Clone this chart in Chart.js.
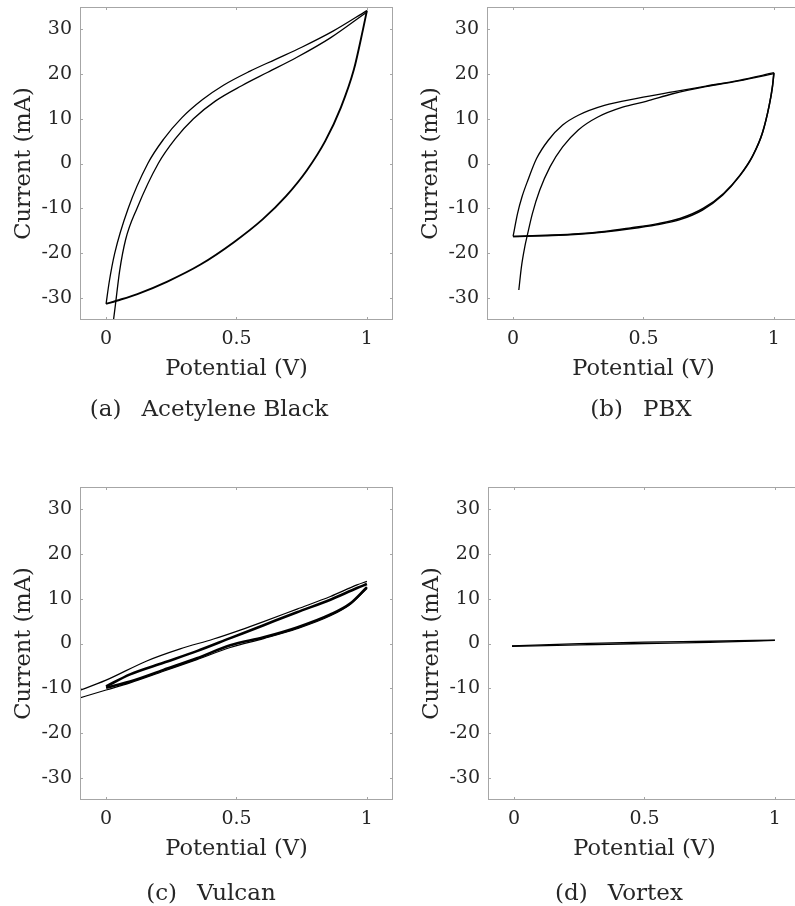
<!DOCTYPE html>
<html>
<head>
<meta charset="utf-8">
<script src="https://cdn.jsdelivr.net/npm/chart.js@4.4.1/dist/chart.umd.min.js"></script>
<style>
html, body { margin: 0; overflow: hidden; background: #fff; }
body { position: relative; width: 795px; height: 906px; font-family: 'DejaVu Serif', serif; }
canvas { position: absolute; }
.cap { position: absolute; width: 300px; text-align: center; font-size: 23px; line-height: 30px; color: #262626; white-space: nowrap; }
.cap span { margin-right: 20px; }
</style>
</head>
<body>

<canvas id="chartA" width="400" height="400" style="left:0px;top:0px"></canvas>
<canvas id="chartB" width="400" height="400" style="left:407px;top:0px"></canvas>
<canvas id="chartC" width="400" height="400" style="left:0px;top:480px"></canvas>
<canvas id="chartD" width="400" height="400" style="left:408px;top:480px"></canvas>

<div class="cap" style="left:59px;top:393px"><span>(a)</span>Acetylene Black</div>
<div class="cap" style="left:491px;top:393px"><span>(b)</span>PBX</div>
<div class="cap" style="left:61px;top:877px"><span>(c)</span>Vulcan</div>
<div class="cap" style="left:469px;top:877px"><span>(d)</span>Vortex</div>

<script>
// AXES

const potentialTicks = [0, 0.5, 1];
const currentTicks = [-30, -20, -10, 0, 10, 20, 30];

// ACETYLENE BLACK  [potential V, current mA]

const acetyleneScan1 = [[0.022,-38],[0.036,-31.5],[0.052,-24],[0.075,-17],[0.118,-10.1],[0.2,0],[0.265,5.5],[0.335,10.0],[0.42,14.0],[0.52,17.4],[0.62,20.4],[0.73,23.7],[0.86,28.1],[1.0,33.9]];
const acetyleneReturn = [[1.0,34.2],[0.985,30],[0.95,21],[0.9,12.5],[0.84,5],[0.77,-1.5],[0.69,-7.3],[0.6,-12.5],[0.49,-17.6],[0.362,-22.6],[0.235,-26.4],[0.12,-29.2],[0.04,-30.7],[0,-31.4]];
const acetyleneScan2 = [[0,-31.4],[0.012,-26.5],[0.033,-20.1],[0.085,-10],[0.16,0],[0.22,5.4],[0.29,10.2],[0.37,14.3],[0.45,17.5],[0.55,20.6],[0.65,23.3],[0.75,26.0],[0.87,29.6],[1.0,34.2]];

// PBX

const pbxScan1 = [[0.022,-28.3],[0.032,-23.1],[0.045,-18.6],[0.054,-16.2],[0.074,-11.2],[0.102,-6.0],[0.142,-0.7],[0.19,3.7],[0.25,7.5],[0.325,10.4],[0.42,12.6],[0.51,13.9],[0.612,15.6],[0.739,17.2],[0.866,18.5],[1.0,20.1]];
const pbxReturn = [[1.0,20.2],[0.994,17.1],[0.981,12.7],[0.955,6.7],[0.917,1.5],[0.866,-3.0],[0.803,-7.1],[0.726,-10.4],[0.637,-12.6],[0.55,-13.7],[0.45,-14.6],[0.35,-15.3],[0.25,-15.8],[0.15,-16.1],[0,-16.3]];
const pbxScan2 = [[0,-16.3],[0.017,-11.2],[0.034,-7.5],[0.057,-3.7],[0.09,1.1],[0.135,5.2],[0.19,8.6],[0.25,10.8],[0.35,13.0],[0.48,14.6],[0.612,16.0],[0.739,17.3],[0.866,18.6],[1.0,20.3]];
const pbxReturn2 = [[1.0,20.3],[0.995,17.4],[0.982,13.0],[0.957,7.0],[0.92,1.9],[0.87,-2.6],[0.807,-6.7],[0.73,-10.0],[0.64,-12.3],[0.55,-13.5],[0.45,-14.4],[0.35,-15.2],[0.25,-15.7],[0.15,-16.0],[0,-16.3]];

// VULCAN

const vulcanFirstUp = [[-0.12,-10.9],[0,-8.2],[0.156,-3.9],[0.284,-1.2],[0.412,1.0],[0.514,3.0],[0.604,4.9],[0.732,7.7],[0.86,10.5],[0.962,13.1],[1.0,13.9]];
const vulcanUp = [[0,-9.6],[0.092,-6.9],[0.22,-4.3],[0.348,-1.7],[0.476,1.2],[0.604,4.1],[0.732,7.0],[0.86,9.8],[0.962,12.4],[1.0,13.3]];
const vulcanDown = [[1.0,12.6],[0.937,9.0],[0.86,6.5],[0.732,3.6],[0.604,1.4],[0.476,-0.4],[0.348,-3.3],[0.22,-5.9],[0.092,-8.5],[0,-9.9]];
const vulcanLastDown = [[1.0,12.3],[0.937,8.8],[0.86,6.2],[0.732,3.3],[0.604,1.1],[0.476,-0.9],[0.348,-3.6],[0.22,-6.2],[0.092,-8.8],[0,-10.4],[-0.12,-12.5]];

// VORTEX

const vortexUp = [[-0.008,-0.55],[0.25,-0.05],[0.5,0.3],[0.75,0.5],[1.0,0.75]];
const vortexDown = [[1.0,0.7],[0.75,0.25],[0.5,0.0],[0.25,-0.3],[-0.008,-0.62]];

Chart.defaults.font.family = "'DejaVu Serif', serif";
Chart.defaults.color = "#262626";

// BOX + INWARD TICKS

const boxPlugin = {
  id: "box",
  afterDraw(chart){
    const {ctx, chartArea: a, scales: {x, y}} = chart;
    ctx.save();
    ctx.strokeStyle = "#a6a6a6";
    ctx.lineWidth = 1;
    ctx.strokeRect(a.left + 0.5, a.top + 0.5, a.right - a.left - 1, a.bottom - a.top - 1);
    ctx.beginPath();
    x.ticks.forEach(t=>{
      const px = Math.round(x.getPixelForValue(t.value)) + 0.5;
      ctx.moveTo(px, a.bottom); ctx.lineTo(px, a.bottom - 3);
      ctx.moveTo(px, a.top); ctx.lineTo(px, a.top + 3);
    });
    y.ticks.forEach(t=>{
      const py = Math.round(y.getPixelForValue(t.value)) + 0.5;
      ctx.moveTo(a.left, py); ctx.lineTo(a.left + 3, py);
      ctx.moveTo(a.right, py); ctx.lineTo(a.right - 3, py);
    });
    ctx.stroke();
    ctx.restore();
  }
};

function makeChart(id, segments){

  new Chart(document.getElementById(id), {
    type: "scatter",
    data: {
      datasets: segments.map(s=>({
        data: s.points.map(p=>({x: p[0], y: p[1]})),
        showLine: true,
        borderColor: "#000",
        borderWidth: s.width,
        pointRadius: 0,
        cubicInterpolationMode: "monotone",
        fill: false
      }))
    },
    options: {
      responsive: false,
      animation: false,
      layout: { padding: { top: 7, right: 7, left: 0, bottom: 0 } },
      plugins: { legend: { display: false }, tooltip: { enabled: false } },
      scales: {
        x: {
          type: "linear",
          min: -0.1,
          max: 1.1,
          afterBuildTicks: s=>{ s.ticks = potentialTicks.map(v=>({value: v})); },
          afterFit: s=>{ s.height = 80; s.paddingLeft = 0; s.paddingRight = 0; },
          grid: { display: false, drawTicks: false },
          border: { display: false },
          ticks: { padding: 8, maxRotation: 0, font: { size: 19 }, callback: v=>String(v) },
          title: { display: true, text: "Potential (V)", font: { size: 22.5 }, padding: { top: 0, bottom: 17 } }
        },
        y: {
          min: -35,
          max: 35,
          afterBuildTicks: s=>{ s.ticks = currentTicks.map(v=>({value: v})); },
          afterFit: s=>{ s.width = 80; s.paddingTop = 0; s.paddingBottom = 0; },
          grid: { display: false, drawTicks: false },
          border: { display: false },
          ticks: { padding: 8, font: { size: 19 }, callback: v=>String(v) },
          title: { display: true, text: "Current (mA)", font: { size: 22.5 }, padding: { top: 11, bottom: 0 } }
        }
      }
    },
    plugins: [boxPlugin]
  });

}

makeChart("chartA", [
  { points: acetyleneScan1, width: 1.3 },
  { points: acetyleneReturn, width: 1.9 },
  { points: acetyleneScan2, width: 1.3 }
]);

makeChart("chartB", [
  { points: pbxScan1, width: 1.3 },
  { points: pbxReturn, width: 1.5 },
  { points: pbxScan2, width: 1.3 },
  { points: pbxReturn2, width: 1.5 }
]);

makeChart("chartC", [
  { points: vulcanFirstUp, width: 1.2 },
  { points: vulcanUp, width: 2.6 },
  { points: vulcanDown, width: 2.6 },
  { points: vulcanLastDown, width: 1.2 }
]);

makeChart("chartD", [
  { points: vortexUp, width: 1.3 },
  { points: vortexDown, width: 1.3 }
]);
</script>
</body>
</html>
